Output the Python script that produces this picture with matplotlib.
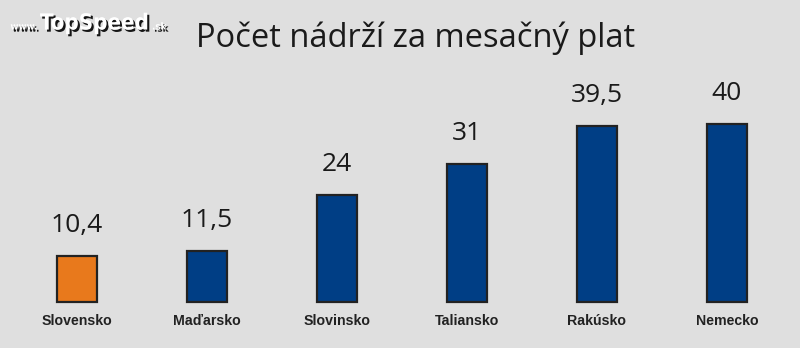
import matplotlib
matplotlib.use("Agg")
import matplotlib.pyplot as plt
import matplotlib.patheffects as pe

# Data
countries = ["Slovensko", "Maďarsko", "Slovinsko", "Taliansko", "Rakúsko", "Nemecko"]
values = [10.4, 11.5, 24, 31, 39.5, 40]
value_labels = ["10,4", "11,5", "24", "31", "39,5", "40"]
colors = ["#e8791c", "#003e85", "#003e85", "#003e85", "#003e85", "#003e85"]

bg = "#dfdfdf"
fig = plt.figure(figsize=(8, 3.48), dpi=100, facecolor=bg)
ax = fig.add_axes([0, 0, 1, 1])
ax.set_facecolor(bg)

x = list(range(len(countries)))
ax.bar(x, values, width=0.31, color=colors, edgecolor="#222222", linewidth=1.6, zorder=2)

for xi, v, lab in zip(x, values, value_labels):
    ax.annotate(lab, (xi, v), xytext=(0, 13), textcoords="offset points",
                ha="center", va="bottom", fontsize=19, color="#1a1a1a",
                family="Open Sans")

for xi, name in zip(x, countries):
    ax.text(xi, -4.3, name, ha="center", va="center", fontsize=10.2,
            fontweight="bold", color="#222222", family="Liberation Sans")

ax.set_xlim(-0.592, 5.562)
ax.set_ylim(-10.34, 67.87)
ax.axis("off")

# Title
fig.text(0.519, 0.89, "Počet nádrží za mesačný plat", ha="center", va="center",
         fontsize=23.5, color="#1a1a1a", family="Open Sans")

# Watermark
shadow = [pe.withSimplePatchShadow(offset=(1.5, -1.5), shadow_rgbFace="black", alpha=0.9)]
wm = dict(fontweight="bold", color="white", family="DejaVu Sans",
          fontstretch="condensed", path_effects=shadow, va="baseline", ha="left")
fig.text(0.013, 0.915, "www.", fontsize=7, **wm)
fig.text(0.05, 0.915, "TopSpeed", fontsize=16, **wm)
fig.text(0.19, 0.915, ".sk", fontsize=7, **wm)

fig.savefig("out.png", dpi=100, facecolor=bg)
